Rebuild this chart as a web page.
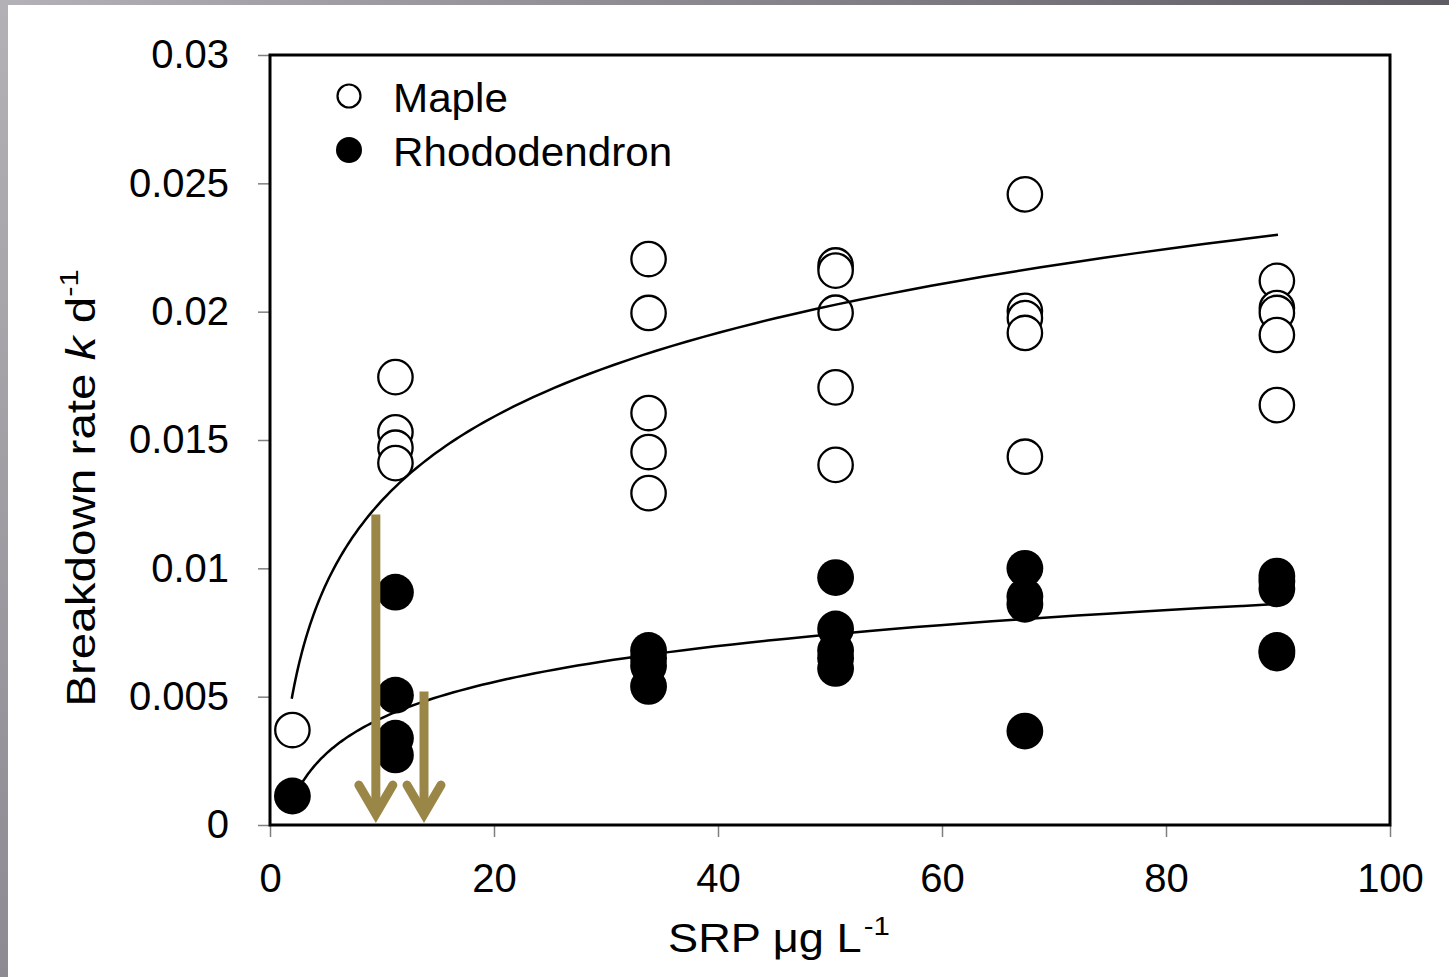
<!DOCTYPE html>
<html>
<head>
<meta charset="utf-8">
<script src="https://cdn.jsdelivr.net/npm/d3@7"></script>
<style>
  html, body { margin: 0; padding: 0; background: #fff; }
  svg { display: block; font-family: "Liberation Sans", Arial, sans-serif; }
</style>
</head>
<body>
<svg id="chart" width="1449" height="977"></svg>
<script>
// values
const xTicks = [0, 20, 40, 60, 80, 100];
const yTicks = [0, 0.005, 0.01, 0.015, 0.02, 0.025, 0.03];
const yTickLabels = ["0", "0.005", "0.01", "0.015", "0.02", "0.025", "0.03"];

const mapleSRP = [2, 11.2, 11.2, 11.2, 11.2, 33.8, 33.8, 33.8, 33.8, 33.8, 50.5, 50.5, 50.5, 50.5, 50.5,
  67.4, 67.4, 67.4, 67.4, 67.4, 89.9, 89.9, 89.9, 89.9, 89.9];
const mapleK = [0.0037, 0.01745, 0.0153, 0.0147, 0.0141, 0.02205, 0.01995, 0.01605, 0.01453, 0.01293,
  0.0218, 0.0216, 0.01996, 0.01705, 0.01403, 0.02457, 0.02003, 0.01975, 0.01917, 0.01435,
  0.0212, 0.02014, 0.01995, 0.01909, 0.01636];

const rhodoSRP = [2, 11.2, 11.2, 11.2, 11.2, 33.8, 33.8, 33.8, 33.8, 50.5, 50.5, 50.5, 50.5, 50.5,
  67.4, 67.4, 67.4, 67.4, 89.9, 89.9, 89.9, 89.9, 89.9];
const rhodoK = [0.00113, 0.00907, 0.00506, 0.00338, 0.00273, 0.0068, 0.0065, 0.0062, 0.0054,
  0.00964, 0.00764, 0.0068, 0.0065, 0.0061, 0.01, 0.0089, 0.0086, 0.00366,
  0.0097, 0.0095, 0.0092, 0.0068, 0.0067];

// logarithmic trend lines k = a + b ln(SRP), coefficients
const mapleFit = [0.0018, 0.00471];
const rhodoFit = [-0.00048, 0.00202];
const mapleFitRange = [1.94, 90];
const rhodoFitRange = [2.2, 90];

// olive arrows: SRP position, top value, tip value
const arrowSRP = [9.45, 13.75];
const arrowTop = [0.0121, 0.0052];
const arrowTip = 0.00027;

const d3g = globalThis.d3;
const svg = d3g.select("#chart");
const W = 1449, H = 977;
const margin = { top: 55, right: 59, bottom: 152, left: 270 };

// grey frame of the slide
const defs = svg.append("defs");
const gl = defs.append("linearGradient").attr("id", "leftStrip").attr("x1", 0).attr("y1", 0).attr("x2", 0).attr("y2", 1);
gl.append("stop").attr("offset", 0).attr("stop-color", "#b3b1b6");
gl.append("stop").attr("offset", 1).attr("stop-color", "#8d8a91");
const gt = defs.append("linearGradient").attr("id", "topStrip").attr("x1", 0).attr("y1", 0).attr("x2", 1).attr("y2", 0);
gt.append("stop").attr("offset", 0).attr("stop-color", "#b4b2b7");
gt.append("stop").attr("offset", 1).attr("stop-color", "#5e5b63");

svg.append("rect").attr("width", W).attr("height", H).attr("fill", "#fff");
svg.append("rect").attr("x", 0).attr("y", 0).attr("width", W).attr("height", 5).attr("fill", "url(#topStrip)");
svg.append("rect").attr("x", 0).attr("y", 0).attr("width", 8).attr("height", H).attr("fill", "url(#leftStrip)");

const x = d3g.scaleLinear().domain([0, 100]).range([margin.left, W - margin.right]);
const y = d3g.scaleLinear().domain([0, 0.03]).range([H - margin.bottom, margin.top]);

// axes
const xAxis = svg.append("g")
  .attr("transform", `translate(0,${y(0)})`)
  .call(d3g.axisBottom(x).tickValues(xTicks).tickSize(12).tickPadding(27).tickSizeOuter(0));
const yAxis = svg.append("g")
  .attr("transform", `translate(${x(0)},0)`)
  .call(d3g.axisLeft(y).tickValues(yTicks).tickFormat((d, i) => yTickLabels[i]).tickSize(12).tickPadding(29).tickSizeOuter(0));

[xAxis, yAxis].forEach(g => {
  g.select(".domain").remove();
  g.selectAll(".tick line").attr("stroke", "#7f7f7f").attr("stroke-width", 1.5);
  g.selectAll(".tick text").attr("fill", "#000").style("font-size", "40px")
    .style("font-family", "'Liberation Sans', Arial, sans-serif");
});

// plot frame
svg.append("rect")
  .attr("x", x(0)).attr("y", y(0.03))
  .attr("width", x(100) - x(0)).attr("height", y(0) - y(0.03))
  .attr("fill", "none").attr("stroke", "#000").attr("stroke-width", 3);

const maple = mapleSRP.map((s, i) => ({ srp: s, k: mapleK[i] }));
const rhodo = rhodoSRP.map((s, i) => ({ srp: s, k: rhodoK[i] }));

svg.append("g").selectAll("circle").data(maple).enter().append("circle")
  .attr("cx", d => x(d.srp)).attr("cy", d => y(d.k)).attr("r", 17.2)
  .attr("fill", "#fff").attr("stroke", "#000").attr("stroke-width", 2.3);

function trend(fit, range) {
  const pts = d3g.range(0, 101).map(i => {
    const s = range[0] * Math.pow(range[1] / range[0], i / 100);
    return [x(s), y(fit[0] + fit[1] * Math.log(s))];
  });
  return d3g.line().curve(d3g.curveBasis)(pts);
}

svg.append("path").attr("d", trend(mapleFit, mapleFitRange))
  .attr("fill", "none").attr("stroke", "#000").attr("stroke-width", 2.5);
svg.append("path").attr("d", trend(rhodoFit, rhodoFitRange))
  .attr("fill", "none").attr("stroke", "#000").attr("stroke-width", 2.5);

svg.append("g").selectAll("circle").data(rhodo).enter().append("circle")
  .attr("cx", d => x(d.srp)).attr("cy", d => y(d.k)).attr("r", 18.4)
  .attr("fill", "#000");

// arrows
const arrowColor = "#9a8748";
const arrows = svg.append("g");
arrowSRP.forEach((s, i) => {
  const ax = x(s), tip = y(arrowTip);
  arrows.append("line")
    .attr("x1", ax).attr("x2", ax).attr("y1", y(arrowTop[i])).attr("y2", tip - 4)
    .attr("stroke", arrowColor).attr("stroke-width", 9);
  arrows.append("path")
    .attr("d", `M${ax - 17},${tip - 33} L${ax},${tip - 4} L${ax + 17},${tip - 33}`)
    .attr("fill", "none").attr("stroke", arrowColor).attr("stroke-width", 9)
    .attr("stroke-linecap", "round").attr("stroke-linejoin", "miter");
});

// legend (text in the source is slightly stretched sideways)
const legend = svg.append("g");
legend.append("circle").attr("cx", 349).attr("cy", 96).attr("r", 11.5)
  .attr("fill", "#fff").attr("stroke", "#000").attr("stroke-width", 2.2);
legend.append("text").attr("transform", "translate(393,112) scale(1.055,1)")
  .style("font-size", "40px").text("Maple");
legend.append("circle").attr("cx", 349).attr("cy", 150).attr("r", 13).attr("fill", "#000");
legend.append("text").attr("transform", "translate(393,166) scale(1.055,1)")
  .style("font-size", "40px").text("Rhododendron");

// axis titles
const xt = svg.append("text").attr("transform", "translate(779,952) scale(1.13,1)")
  .attr("text-anchor", "middle").style("font-size", "40px");
xt.append("tspan").text("SRP μg L");
xt.append("tspan").attr("dx", 2).attr("dy", -17).style("font-size", "26px").text("-1");

const yt = svg.append("text")
  .attr("transform", "translate(95,488) rotate(-90) scale(1.19,1)")
  .attr("text-anchor", "middle").style("font-size", "40px");
yt.append("tspan").text("Breakdown rate ");
yt.append("tspan").style("font-style", "italic").text("k");
yt.append("tspan").text(" d");
yt.append("tspan").attr("dy", -17).style("font-size", "26px").text("-1");
</script>
</body>
</html>
